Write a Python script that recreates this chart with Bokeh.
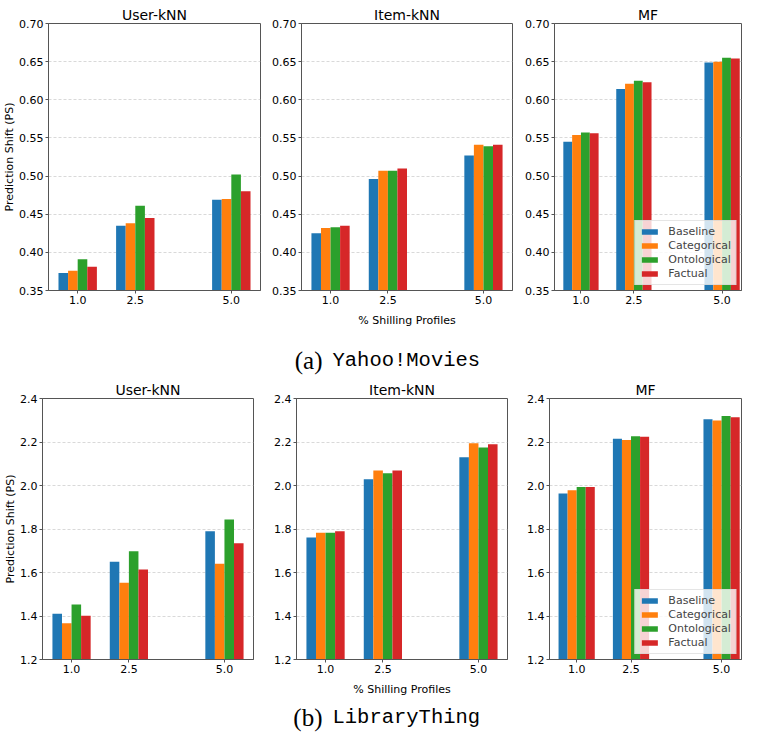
import numpy as np
from bokeh.plotting import figure
from bokeh.layouts import column, row
from bokeh.models import FixedTicker, Range1d
from bokeh.embed import file_html
from bokeh.resources import INLINE
from bokeh.core.properties import value

# ---------------- data ----------------
pcts = [1.0, 2.5, 5.0]
pct_labels = ["1.0", "2.5", "5.0"]
methods = ["Baseline", "Categorical", "Ontological", "Factual"]
colors = ["#1f77b4", "#ff7f0e", "#2ca02c", "#d62728"]
bar_offsets = [-0.375, -0.125, 0.125, 0.375]
bar_width = 0.25

# (a) Yahoo!Movies
ym_user = {"Baseline": [0.373, 0.435, 0.469], "Categorical": [0.376, 0.438, 0.470],
           "Ontological": [0.391, 0.461, 0.502], "Factual": [0.381, 0.445, 0.480]}
ym_item = {"Baseline": [0.425, 0.496, 0.527], "Categorical": [0.432, 0.507, 0.541],
           "Ontological": [0.433, 0.507, 0.539], "Factual": [0.435, 0.510, 0.541]}
ym_mf = {"Baseline": [0.545, 0.614, 0.649], "Categorical": [0.554, 0.621, 0.650],
         "Ontological": [0.557, 0.625, 0.655], "Factual": [0.556, 0.623, 0.654]}
ym_yticks = [0.35, 0.40, 0.45, 0.50, 0.55, 0.60, 0.65, 0.70]
ym_ylabels = ["0.35", "0.40", "0.45", "0.50", "0.55", "0.60", "0.65", "0.70"]

# (b) LibraryThing
lt_user = {"Baseline": [1.410, 1.650, 1.790], "Categorical": [1.367, 1.553, 1.640],
           "Ontological": [1.453, 1.698, 1.844], "Factual": [1.401, 1.614, 1.734]}
lt_item = {"Baseline": [1.761, 2.029, 2.130], "Categorical": [1.783, 2.069, 2.194],
           "Ontological": [1.783, 2.056, 2.175], "Factual": [1.790, 2.069, 2.190]}
lt_mf = {"Baseline": [1.963, 2.215, 2.305], "Categorical": [1.978, 2.209, 2.299],
         "Ontological": [1.993, 2.227, 2.320], "Factual": [1.993, 2.224, 2.314]}
lt_yticks = [1.2, 1.4, 1.6, 1.8, 2.0, 2.2, 2.4]
lt_ylabels = ["1.2", "1.4", "1.6", "1.8", "2.0", "2.2", "2.4"]

titles = ["User-kNN", "Item-kNN", "MF"]
ylabel = "Prediction Shift (PS)"
xlabel = "% Shilling Profiles"

SPINE = "#555555"
FONT = "DejaVu Sans"


def panel(title, data, yticks, ylabels, width, height, bl, br, bt, bb,
          xr, show_ylabel=False, show_xlabel=False, legend=False):
    p = figure(width=width, height=height, x_range=Range1d(*xr),
               y_range=Range1d(yticks[0], yticks[-1]),
               toolbar_location=None, output_backend="svg",
               min_border_left=bl, min_border_right=br,
               min_border_top=bt, min_border_bottom=bb, title=title)
    p.title.align = "center"
    p.title.text_font = FONT
    p.title.text_font_style = "normal"
    p.title.text_font_size = "14px"
    p.title.text_color = "#000000"
    p.title.standoff = 2
    p.title.offset = 0

    for m, c, off in zip(methods, colors, bar_offsets):
        xs = np.array(pcts) + off
        kw = dict(legend_label=m) if legend else {}
        p.vbar(x=xs, top=data[m], bottom=0, width=bar_width,
               fill_color=c, line_color=None, **kw)

    p.xaxis.ticker = FixedTicker(ticks=pcts)
    p.xaxis.major_label_overrides = dict(zip(pcts, pct_labels))
    p.yaxis.ticker = FixedTicker(ticks=yticks)
    p.yaxis.major_label_overrides = dict(zip(yticks, ylabels))
    for ax in (p.xaxis[0], p.yaxis[0]):
        ax.major_label_text_font = FONT
        ax.major_label_text_font_size = "11px"
        ax.major_label_text_color = "#000000"
        ax.axis_line_color = SPINE
        ax.major_tick_line_color = SPINE
        ax.major_tick_out = 3
        ax.major_tick_in = 0
        ax.minor_tick_line_color = None
        ax.major_label_standoff = 2
        ax.axis_label_text_font = FONT
        ax.axis_label_text_font_size = "11px"
        ax.axis_label_text_font_style = "normal"
        ax.axis_label_text_color = "#000000"
    if show_ylabel:
        p.yaxis.axis_label = ylabel
        p.yaxis.axis_label_standoff = 0
    if show_xlabel:
        p.xaxis.axis_label = xlabel
        p.xaxis.axis_label_standoff = 7

    p.xgrid.visible = False
    p.ygrid.grid_line_color = "#cfcfcf"
    p.ygrid.grid_line_dash = "3 2"
    p.ygrid.grid_line_width = 0.8
    p.outline_line_color = SPINE
    p.outline_line_width = 1
    p.background_fill_color = "white"
    p.border_fill_color = "white"

    if legend:
        lg = p.legend[0]
        lg.location = "bottom_right"
        lg.label_text_font = FONT
        lg.label_text_font_size = "11px"
        lg.glyph_width = 20
        lg.glyph_height = 7
        lg.label_height = 10
        lg.spacing = 1
        lg.padding = 4
        lg.margin = 5
        lg.label_standoff = 9
        lg.border_line_color = "#cccccc"
        lg.background_fill_alpha = 0.8
    return p


def caption(letter, name, width, height, yc):
    c = figure(width=width, height=height, x_range=Range1d(0, width),
               y_range=Range1d(0, height), toolbar_location=None,
               output_backend="svg", x_axis_type=None, y_axis_type=None,
               min_border=0)
    c.outline_line_color = None
    c.xgrid.visible = False
    c.ygrid.visible = False
    c.text(x=[322], y=[yc], text=[letter], text_align="right",
           text_baseline="middle", text_font=value("Liberation Serif"),
           text_font_size="25px", text_color="#000000")
    c.text(x=[332], y=[yc], text=[name], text_align="left",
           text_baseline="middle", text_font=value("Liberation Mono"),
           text_font_size="20.5px", text_color="#000000")
    return c


# top row (Yahoo!Movies)
H1 = 335
f1 = panel(titles[0], ym_user, ym_yticks, ym_ylabels, 265, H1, 47, 5, 23, 45,
           (0.24, 5.76), show_ylabel=True)
f2 = panel(titles[1], ym_item, ym_yticks, ym_ylabels, 252, H1, 36, 5, 23, 45,
           (0.24, 5.76), show_xlabel=True)
f3 = panel(titles[2], ym_mf, ym_yticks, ym_ylabels, 225, H1, 37, 1, 23, 45,
           (0.25, 5.55), legend=True)

cap_a = caption("(a)", "Yahoo!Movies", 742, 43, 18)

# bottom row (LibraryThing)
H2 = 320
f4 = panel(titles[0], lt_user, lt_yticks, lt_ylabels, 258, H2, 42, 5, 20, 38,
           (0.24, 5.76), show_ylabel=True)
f5 = panel(titles[1], lt_item, lt_yticks, lt_ylabels, 254, H2, 38, 5, 20, 38,
           (0.24, 5.76), show_xlabel=True)
f6 = panel(titles[2], lt_mf, lt_yticks, lt_ylabels, 230, H2, 37, 1, 20, 38,
           (0.25, 5.55), legend=True)

cap_b = caption("(b)", "LibraryThing", 742, 34, 15)

layout = column(row(f1, f2, f3), cap_a, row(f4, f5, f6), cap_b)

open("out.html", "w").write(file_html(layout, INLINE))
